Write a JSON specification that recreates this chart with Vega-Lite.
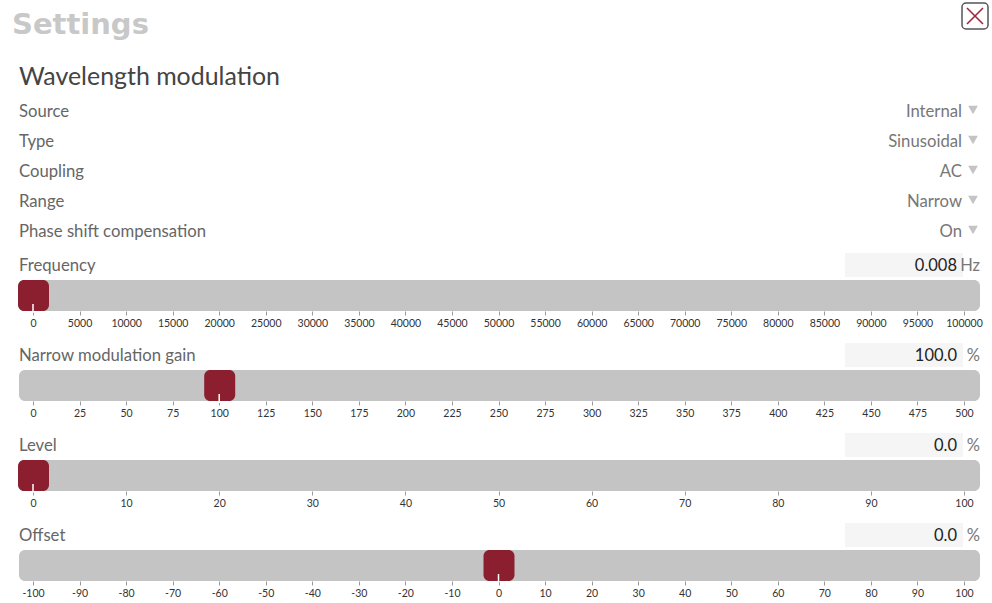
{
  "$schema": "https://vega.github.io/schema/vega-lite/v6.json",
  "background": "white",
  "padding": {"left": 12, "top": 2, "right": 2, "bottom": 2},
  "config": {
    "view": {"stroke": null},
    "font": "Lato",
    "axis": {"domain": false, "grid": false, "ticks": true, "tickSize": 4, "tickColor": "#9a9a9a", "tickWidth": 1, "labelFont": "Lato", "labelFontSize": 10.5, "labelColor": "#333333", "labelPadding": 3, "title": null, "labelFlush": false, "labelOverlap": false}
  },
  "datasets": {
    "titles": [{"title": "Settings", "section": "Wavelength modulation"}],
    "header": [
      {"row": "Source", "value": "Internal"},
      {"row": "Type", "value": "Sinusoidal"},
      {"row": "Coupling", "value": "AC"},
      {"row": "Range", "value": "Narrow"},
      {"row": "Phase shift compensation", "value": "On"}
    ],
    "sliders": [
      {"name": "Frequency", "value": 0.008, "min": 0, "max": 100000, "unit": "Hz"},
      {"name": "Narrow modulation gain", "value": 100, "min": 0, "max": 500, "unit": "%"},
      {"name": "Level", "value": 0, "min": 0, "max": 100, "unit": "%"},
      {"name": "Offset", "value": 0, "min": -100, "max": 100, "unit": "%"}
    ]
  },
  "bounds": "flush",
  "spacing": 34,
  "vconcat": [
    {
      "width": 931,
      "height": 150,
      "layer": [
        {
          "data": {"name": "titles"},
          "mark": {"type": "rect", "fill": "white", "stroke": "#555555", "strokeWidth": 1.5, "cornerRadius": 4, "xOffset": -2, "x2Offset": 24, "yOffset": -93, "y2Offset": -67},
          "encoding": {"x": {"value": "width"}, "x2": {"value": "width"}, "y": {"value": 0}, "y2": {"value": 0}}
        },
        {
          "data": {"name": "titles"},
          "mark": {"type": "point", "shape": "M-1,-1L1,1M1,-1L-1,1", "filled": false, "stroke": "#9e2a36", "strokeWidth": 1.6, "size": 256, "opacity": 1, "xOffset": 11, "yOffset": -80},
          "encoding": {"x": {"value": "width"}, "y": {"value": 0}}
        },
        {
          "data": {"name": "titles"},
          "mark": {"type": "text", "align": "left", "baseline": "alphabetic", "dx": -21, "dy": -62, "font": "DejaVu Sans", "fontWeight": "bold", "fontSize": 29, "color": "#c8c8c8"},
          "encoding": {"text": {"field": "title"}, "x": {"value": 0}, "y": {"value": 0}}
        },
        {
          "data": {"name": "titles"},
          "mark": {"type": "text", "align": "left", "baseline": "alphabetic", "dx": -14, "dy": -11, "fontSize": 24.9, "color": "#444444"},
          "encoding": {"text": {"field": "section"}, "x": {"value": 0}, "y": {"value": 0}}
        },
        {
          "data": {"name": "header"},
          "mark": {"type": "text", "align": "left", "baseline": "middle", "dx": -14, "dy": 1, "fontSize": 16.7, "color": "#666666"},
          "encoding": {"text": {"field": "row"}, "x": {"value": 0}, "y": {"field": "row", "type": "nominal", "sort": null, "axis": null}}
        },
        {
          "data": {"name": "header"},
          "mark": {"type": "text", "align": "right", "baseline": "middle", "dx": -2, "dy": 1, "fontSize": 16.7, "color": "#777777"},
          "encoding": {"text": {"field": "value"}, "x": {"value": "width"}, "y": {"field": "row", "type": "nominal", "sort": null, "axis": null}}
        },
        {
          "data": {"name": "header"},
          "mark": {"type": "point", "shape": "triangle-down", "filled": true, "color": "#c4c4c4", "opacity": 1, "size": 95, "xOffset": 9, "yOffset": -1},
          "encoding": {"x": {"value": "width"}, "y": {"field": "row", "type": "nominal", "sort": null, "axis": null}}
        }
      ]
    },
    {
      "bounds": "flush",
      "spacing": 59,
      "vconcat": [
        {
          "width": 931, "height": 31,
          "data": {"name": "sliders"},
          "transform": [{"filter": "datum.name === 'Frequency'"}],
          "layer": [
            {"mark": {"type": "rect", "color": "#c4c4c4", "cornerRadius": 6, "xOffset": -14, "x2Offset": 16},
             "encoding": {"x": {"field": "min", "type": "quantitative", "scale": {"domain": [0, 100000], "nice": false, "zero": false}, "axis": {"values": [0,5000,10000,15000,20000,25000,30000,35000,40000,45000,50000,55000,60000,65000,70000,75000,80000,85000,90000,95000,100000], "labelExpr": "'' + datum.value"}}, "x2": {"field": "max"}, "y": {"value": 0}, "y2": {"value": "height"}}},
            {"mark": {"type": "rect", "color": "#8b1f2f", "cornerRadius": 6, "xOffset": -15, "x2Offset": 16},
             "encoding": {"x": {"field": "value", "type": "quantitative", "scale": {"domain": [0, 100000], "nice": false, "zero": false}}, "x2": {"field": "value"}, "y": {"value": 0}, "y2": {"value": "height"}}},
            {"mark": {"type": "rule", "color": "white", "strokeWidth": 1.5, "yOffset": -7, "y2Offset": 2},
             "encoding": {"x": {"field": "value", "type": "quantitative", "scale": {"domain": [0, 100000], "nice": false, "zero": false}}, "y": {"value": "height"}, "y2": {"value": "height"}}},
            {"mark": {"type": "text", "align": "left", "baseline": "middle", "dx": -14, "dy": -14, "fontSize": 16.7, "color": "#666666"},
             "encoding": {"text": {"field": "name"}, "x": {"value": 0}, "y": {"value": 0}}},
            {"mark": {"type": "rect", "color": "#f5f5f5", "xOffset": -119, "x2Offset": -1, "yOffset": -27, "y2Offset": -3},
             "encoding": {"x": {"value": "width"}, "x2": {"value": "width"}, "y": {"value": 0}, "y2": {"value": 0}}},
            {"mark": {"type": "text", "align": "right", "baseline": "middle", "dx": -7, "dy": -14, "fontSize": 16.5, "color": "#222222"},
             "encoding": {"text": {"field": "value", "type": "quantitative", "format": ".3f"}, "x": {"value": "width"}, "y": {"value": 0}}},
            {"mark": {"type": "text", "align": "right", "baseline": "middle", "dx": 16, "dy": -14, "fontSize": 16.5, "color": "#777777"},
             "encoding": {"text": {"field": "unit"}, "x": {"value": "width"}, "y": {"value": 0}}}
          ]
        },
        {
          "width": 931, "height": 31,
          "data": {"name": "sliders"},
          "transform": [{"filter": "datum.name === 'Narrow modulation gain'"}],
          "layer": [
            {"mark": {"type": "rect", "color": "#c4c4c4", "cornerRadius": 6, "xOffset": -14, "x2Offset": 16},
             "encoding": {"x": {"field": "min", "type": "quantitative", "scale": {"domain": [0, 500], "nice": false, "zero": false}, "axis": {"values": [0,25,50,75,100,125,150,175,200,225,250,275,300,325,350,375,400,425,450,475,500], "labelExpr": "'' + datum.value"}}, "x2": {"field": "max"}, "y": {"value": 0}, "y2": {"value": "height"}}},
            {"mark": {"type": "rect", "color": "#8b1f2f", "cornerRadius": 6, "xOffset": -15, "x2Offset": 16},
             "encoding": {"x": {"field": "value", "type": "quantitative", "scale": {"domain": [0, 500], "nice": false, "zero": false}}, "x2": {"field": "value"}, "y": {"value": 0}, "y2": {"value": "height"}}},
            {"mark": {"type": "rule", "color": "white", "strokeWidth": 1.5, "yOffset": -7, "y2Offset": 2},
             "encoding": {"x": {"field": "value", "type": "quantitative", "scale": {"domain": [0, 500], "nice": false, "zero": false}}, "y": {"value": "height"}, "y2": {"value": "height"}}},
            {"mark": {"type": "text", "align": "left", "baseline": "middle", "dx": -14, "dy": -14, "fontSize": 16.7, "color": "#666666"},
             "encoding": {"text": {"field": "name"}, "x": {"value": 0}, "y": {"value": 0}}},
            {"mark": {"type": "rect", "color": "#f5f5f5", "xOffset": -119, "x2Offset": -1, "yOffset": -27, "y2Offset": -3},
             "encoding": {"x": {"value": "width"}, "x2": {"value": "width"}, "y": {"value": 0}, "y2": {"value": 0}}},
            {"mark": {"type": "text", "align": "right", "baseline": "middle", "dx": -7, "dy": -14, "fontSize": 16.5, "color": "#222222"},
             "encoding": {"text": {"field": "value", "type": "quantitative", "format": ".1f"}, "x": {"value": "width"}, "y": {"value": 0}}},
            {"mark": {"type": "text", "align": "right", "baseline": "middle", "dx": 16, "dy": -14, "fontSize": 16.5, "color": "#777777"},
             "encoding": {"text": {"field": "unit"}, "x": {"value": "width"}, "y": {"value": 0}}}
          ]
        },
        {
          "width": 931, "height": 31,
          "data": {"name": "sliders"},
          "transform": [{"filter": "datum.name === 'Level'"}],
          "layer": [
            {"mark": {"type": "rect", "color": "#c4c4c4", "cornerRadius": 6, "xOffset": -14, "x2Offset": 16},
             "encoding": {"x": {"field": "min", "type": "quantitative", "scale": {"domain": [0, 100], "nice": false, "zero": false}, "axis": {"values": [0,10,20,30,40,50,60,70,80,90,100], "labelExpr": "'' + datum.value"}}, "x2": {"field": "max"}, "y": {"value": 0}, "y2": {"value": "height"}}},
            {"mark": {"type": "rect", "color": "#8b1f2f", "cornerRadius": 6, "xOffset": -15, "x2Offset": 16},
             "encoding": {"x": {"field": "value", "type": "quantitative", "scale": {"domain": [0, 100], "nice": false, "zero": false}}, "x2": {"field": "value"}, "y": {"value": 0}, "y2": {"value": "height"}}},
            {"mark": {"type": "rule", "color": "white", "strokeWidth": 1.5, "yOffset": -7, "y2Offset": 2},
             "encoding": {"x": {"field": "value", "type": "quantitative", "scale": {"domain": [0, 100], "nice": false, "zero": false}}, "y": {"value": "height"}, "y2": {"value": "height"}}},
            {"mark": {"type": "text", "align": "left", "baseline": "middle", "dx": -14, "dy": -14, "fontSize": 16.7, "color": "#666666"},
             "encoding": {"text": {"field": "name"}, "x": {"value": 0}, "y": {"value": 0}}},
            {"mark": {"type": "rect", "color": "#f5f5f5", "xOffset": -119, "x2Offset": -1, "yOffset": -27, "y2Offset": -3},
             "encoding": {"x": {"value": "width"}, "x2": {"value": "width"}, "y": {"value": 0}, "y2": {"value": 0}}},
            {"mark": {"type": "text", "align": "right", "baseline": "middle", "dx": -7, "dy": -14, "fontSize": 16.5, "color": "#222222"},
             "encoding": {"text": {"field": "value", "type": "quantitative", "format": ".1f"}, "x": {"value": "width"}, "y": {"value": 0}}},
            {"mark": {"type": "text", "align": "right", "baseline": "middle", "dx": 16, "dy": -14, "fontSize": 16.5, "color": "#777777"},
             "encoding": {"text": {"field": "unit"}, "x": {"value": "width"}, "y": {"value": 0}}}
          ]
        },
        {
          "width": 931, "height": 31,
          "data": {"name": "sliders"},
          "transform": [{"filter": "datum.name === 'Offset'"}],
          "layer": [
            {"mark": {"type": "rect", "color": "#c4c4c4", "cornerRadius": 6, "xOffset": -14, "x2Offset": 16},
             "encoding": {"x": {"field": "min", "type": "quantitative", "scale": {"domain": [-100, 100], "nice": false, "zero": false}, "axis": {"values": [-100,-90,-80,-70,-60,-50,-40,-30,-20,-10,0,10,20,30,40,50,60,70,80,90,100], "labelExpr": "'' + datum.value"}}, "x2": {"field": "max"}, "y": {"value": 0}, "y2": {"value": "height"}}},
            {"mark": {"type": "rect", "color": "#8b1f2f", "cornerRadius": 6, "xOffset": -15, "x2Offset": 16},
             "encoding": {"x": {"field": "value", "type": "quantitative", "scale": {"domain": [-100, 100], "nice": false, "zero": false}}, "x2": {"field": "value"}, "y": {"value": 0}, "y2": {"value": "height"}}},
            {"mark": {"type": "rule", "color": "white", "strokeWidth": 1.5, "yOffset": -7, "y2Offset": 2},
             "encoding": {"x": {"field": "value", "type": "quantitative", "scale": {"domain": [-100, 100], "nice": false, "zero": false}}, "y": {"value": "height"}, "y2": {"value": "height"}}},
            {"mark": {"type": "text", "align": "left", "baseline": "middle", "dx": -14, "dy": -14, "fontSize": 16.7, "color": "#666666"},
             "encoding": {"text": {"field": "name"}, "x": {"value": 0}, "y": {"value": 0}}},
            {"mark": {"type": "rect", "color": "#f5f5f5", "xOffset": -119, "x2Offset": -1, "yOffset": -27, "y2Offset": -3},
             "encoding": {"x": {"value": "width"}, "x2": {"value": "width"}, "y": {"value": 0}, "y2": {"value": 0}}},
            {"mark": {"type": "text", "align": "right", "baseline": "middle", "dx": -7, "dy": -14, "fontSize": 16.5, "color": "#222222"},
             "encoding": {"text": {"field": "value", "type": "quantitative", "format": ".1f"}, "x": {"value": "width"}, "y": {"value": 0}}},
            {"mark": {"type": "text", "align": "right", "baseline": "middle", "dx": 16, "dy": -14, "fontSize": 16.5, "color": "#777777"},
             "encoding": {"text": {"field": "unit"}, "x": {"value": "width"}, "y": {"value": 0}}}
          ]
        }
      ]
    }
  ]
}
